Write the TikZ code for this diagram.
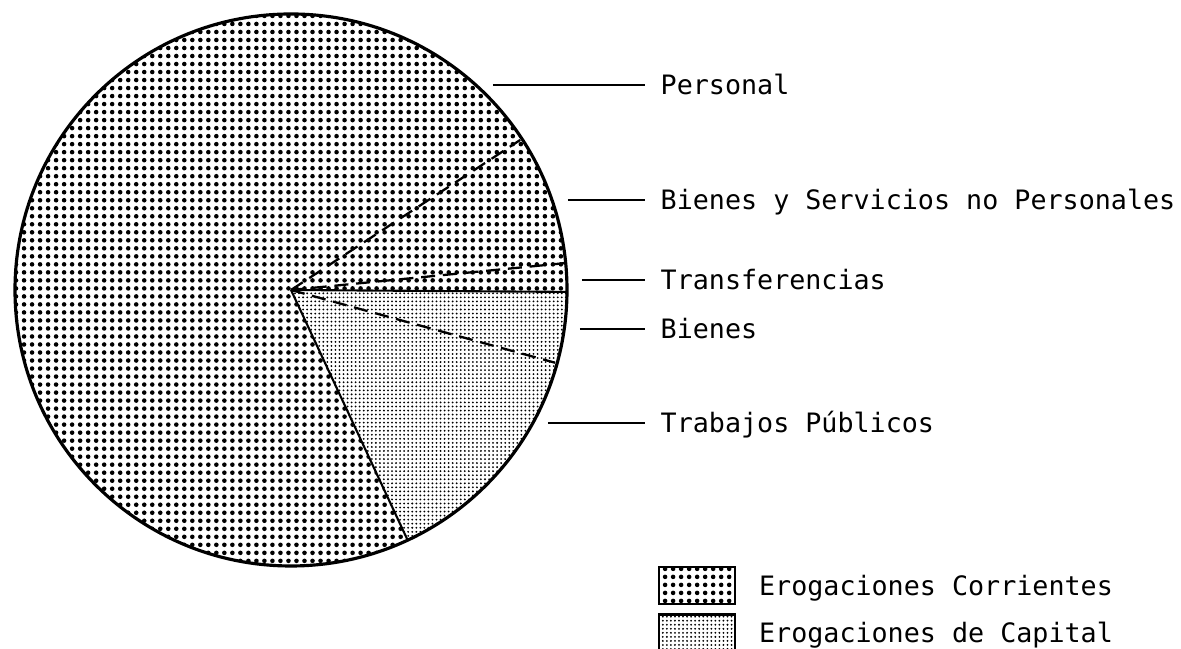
\documentclass[tikz,border=0pt]{standalone}
\usepackage{fontspec}
\newfontfamily\typefont{DejaVu Sans Mono}
\usetikzlibrary{positioning, patterns.meta}

\tikzset{
  txt/.style={font=\typefont\fontsize{7.6}{9}\selectfont, inner ysep=0pt, text height=2mm, text depth=0pt},
  lbl/.style={txt, anchor=west, inner xsep=1.5mm},
  legtxt/.style={txt, inner xsep=0pt},
  leader/.style={line width=0.55pt},
  cut/.style={line width=0.65pt, dash pattern=on 4pt off 2.2pt},
  corr/.style={pattern={Dots[distance=2.28pt, radius=0.65pt]}},
  capi/.style={pattern={Dots[distance=1.15pt, radius=0.29pt]}},
  legbox/.style={draw, line width=0.8pt, minimum width=7.6mm, minimum height=3.7mm, inner sep=0pt},
}

\begin{document}
\begin{tikzpicture}[x=0.1mm, y=0.1mm]
    \useasboundingbox (0,0) rectangle (1181,649);
    \coordinate (O) at (291,359);
    % pie
    \fill[corr] (O) -- ++(-0.4:276) arc[start angle=-0.4, end angle=295, radius=276] -- cycle;
    \fill[capi] (O) -- ++(-65:276) arc[start angle=-65, end angle=-0.4, radius=276] -- cycle;
    \draw[line width=0.9pt] (O) circle[radius=276];
    \draw[line width=0.6pt] (O) -- ++(-0.4:276);
    \draw[line width=0.6pt] (O) -- ++(-65:276);
    \draw[cut] (O) -- ++(33.2:274);
    \draw[cut] (O) -- ++(5.6:276);
    \draw[cut] (O) -- ++(-15.4:274);
    % labels
    \foreach \nm/\xs/\yy/\t in {personal/493/564/Personal, bys/568/449/Bienes y Servicios no Personales, transf/582/369/Transferencias, bienes/580/320/Bienes, trab/548/226/Trabajos Públicos} {
        \node[lbl] (\nm) at (645,\yy) {\t};
        \coordinate (\nm-tip) at (\xs,\yy);
        \draw[leader] (\nm-tip) -- (\nm.west);
    }
    % legend
    \node[legbox, corr] (corrbox) at (697,63.5) {};
    \node[legtxt, right=2.2mm of corrbox] (corrtxt) {Erogaciones Corrientes};
    \node[legbox, capi] (capibox) at (697,16) {};
    \node[legtxt, right=2.2mm of capibox] (capitxt) {Erogaciones de Capital};
\end{tikzpicture}
\end{document}
